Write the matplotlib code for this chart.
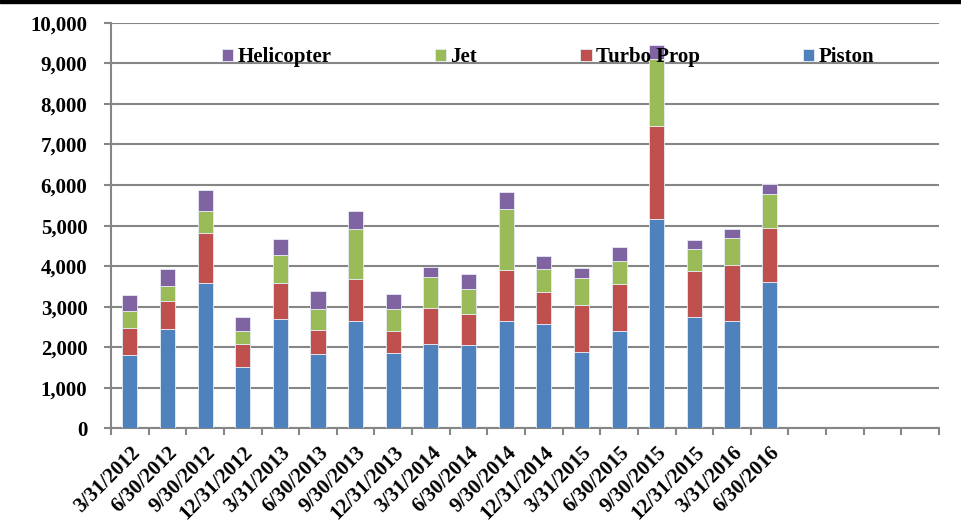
import numpy as np
import matplotlib.pyplot as plt
from matplotlib.ticker import FuncFormatter

# quarter end dates (chart leaves 4 empty slots on the right)
quarters = ["3/31/2012", "6/30/2012", "9/30/2012", "12/31/2012",
            "3/31/2013", "6/30/2013", "9/30/2013", "12/31/2013",
            "3/31/2014", "6/30/2014", "9/30/2014", "12/31/2014",
            "3/31/2015", "6/30/2015", "9/30/2015", "12/31/2015",
            "3/31/2016", "6/30/2016"]
n_slots = 22

piston = [1820, 2459, 3593, 1515, 2706, 1843, 2641, 1868, 2090,
          2065, 2641, 2583, 1877, 2395, 5163, 2740, 2649, 3610]
turbo_prop = [664, 675, 1217, 567, 887, 592, 1051, 527, 872,
              764, 1265, 773, 1174, 1166, 2284, 1134, 1380, 1338]
jet = [419, 378, 557, 321, 682, 517, 1216, 550, 779,
       601, 1503, 575, 658, 559, 1658, 549, 673, 823]
helicopter = [387, 418, 503, 352, 395, 429, 459, 377, 246,
              377, 411, 327, 246, 345, 338, 222, 214, 261]

series = [("Piston", piston, "#4F81BD"),
          ("Turbo Prop", turbo_prop, "#C0504D"),
          ("Jet", jet, "#9BBB59"),
          ("Helicopter", helicopter, "#8064A2")]

plt.rcParams['font.family'] = ['Liberation Serif', 'DejaVu Serif']
plt.rcParams['font.weight'] = 'bold'

fig = plt.figure(figsize=(9.61, 5.23), dpi=100)
ax = fig.add_axes([0.1155, 0.1807, 0.8616, 0.7759])

# thin black band along the top edge
fig.patches.append(plt.Rectangle((0, 0.994), 1, 0.006, transform=fig.transFigure,
                                 color="black", zorder=10))

x = np.arange(len(quarters))
bottom = np.zeros(len(quarters))
handles = {}
for name, vals, col in series:
    b = ax.bar(x, vals, width=0.4, bottom=bottom, color=col,
               edgecolor="#e6ecf5", linewidth=0.6, zorder=3, label=name)
    handles[name] = b
    bottom += np.array(vals)

ax.set_xlim(-0.5, n_slots - 0.5)
ax.set_ylim(0, 10000)
ax.set_yticks(np.arange(0, 10001, 1000))
ax.yaxis.set_major_formatter(FuncFormatter(lambda v, p: f"{int(v):,}"))
ax.grid(axis="y", color="#868686", linewidth=1.5, zorder=0)

ax.set_xticks(x)
ax.set_xticklabels(quarters, rotation=45, ha="right", va="top",
                   rotation_mode="anchor")
ax.set_xticks(np.arange(-0.5, n_slots, 1), minor=True)
ax.tick_params(axis="x", which="major", length=0, pad=10, labelsize=15)
ax.tick_params(axis="x", which="minor", length=5, width=1.5, color="#868686")
ax.tick_params(axis="y", length=5, width=1.5, color="#868686", labelsize=15, pad=12)

for s in ["top", "right"]:
    ax.spines[s].set_visible(False)
for s in ["left", "bottom"]:
    ax.spines[s].set_color("#868686")
    ax.spines[s].set_linewidth(1.5)

order = ["Helicopter", "Jet", "Turbo Prop", "Piston"]
leg = ax.legend([handles[k] for k in order], order, ncol=4, frameon=False,
                loc="center left", bbox_to_anchor=(0.134, 0.915),
                borderaxespad=0, borderpad=0, fontsize=15,
                handlelength=0.55, handleheight=0.55, handletextpad=0.2,
                columnspacing=4.95)
leg.set_zorder(5)

fig.savefig("out.png", dpi=100)
